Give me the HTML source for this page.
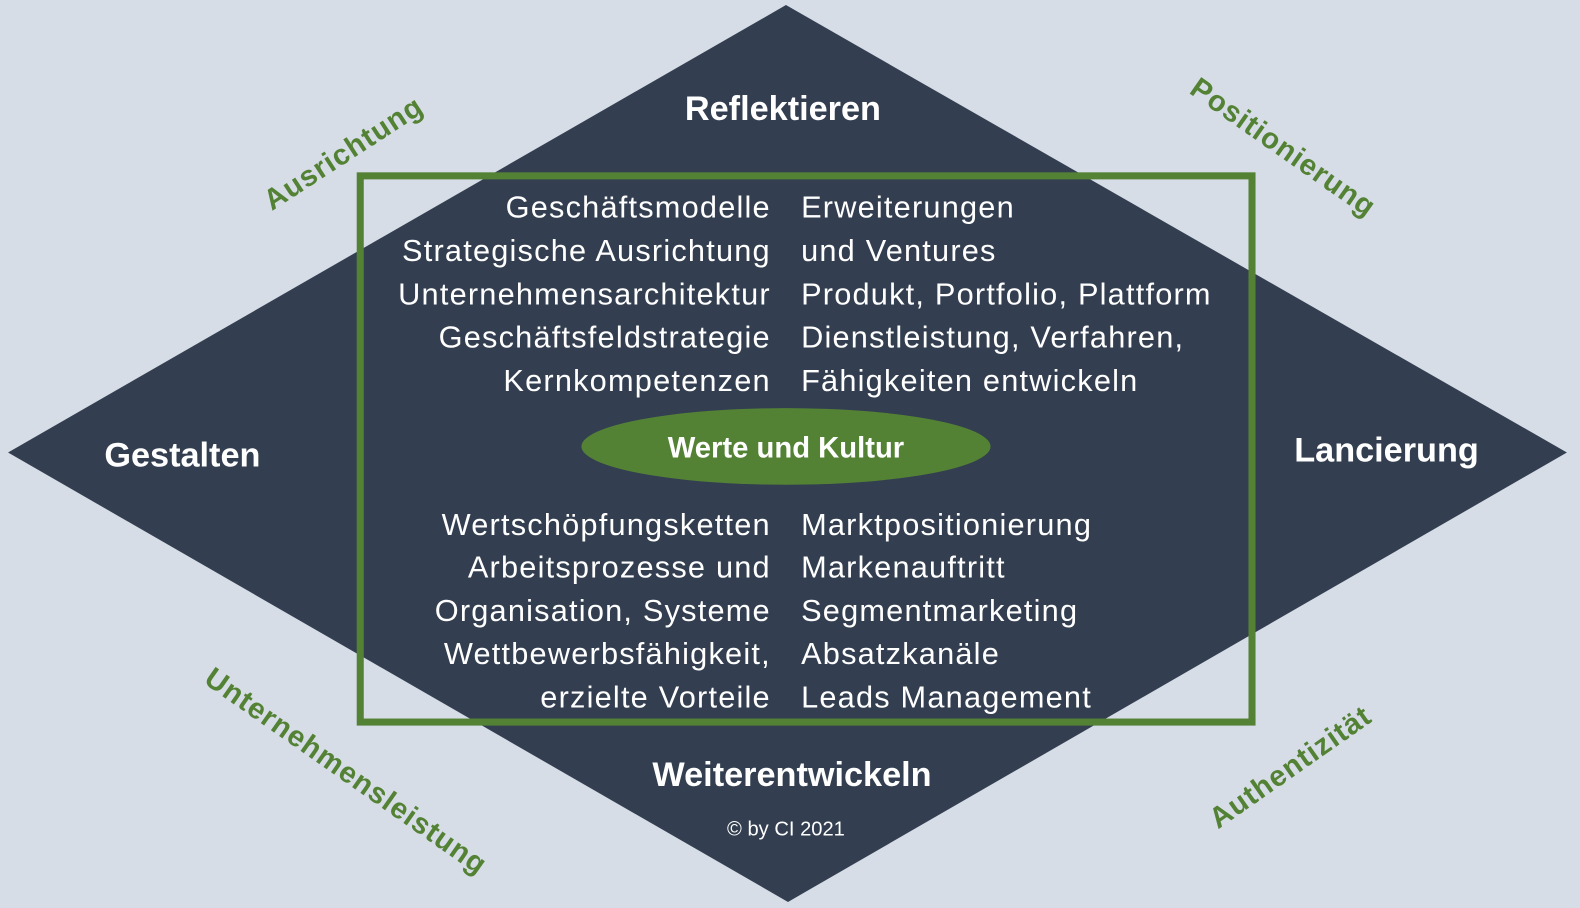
<!DOCTYPE html>
<html><head><meta charset="utf-8"><style>
html,body{margin:0;padding:0;background:#d6dde7;}
svg{display:block;}
text{font-family:"Liberation Sans",sans-serif;}
</style></head><body>
<svg width="1580" height="908" viewBox="0 0 1568 901" preserveAspectRatio="none" xmlns="http://www.w3.org/2000/svg">
<rect width="1568" height="901" fill="#d6dde7"/>
<polygon points="780,5 1555,449 782,895 8,449" fill="#333f50"/>
<rect x="357.5" y="174.5" width="885" height="542" fill="none" stroke="#548235" stroke-width="7"/>
<ellipse cx="780" cy="443" rx="203" ry="38" fill="#548235"/>
<g fill="#fff" font-weight="bold" font-size="34" text-anchor="middle">
<text x="777" y="119">Reflektieren</text>
<text x="181" y="463">Gestalten</text>
<text x="1376" y="458">Lancierung</text>
<text x="786" y="780">Weiterentwickeln</text>
<text x="780" y="454" font-size="29">Werte und Kultur</text>
</g>
<text x="780" y="829" fill="#fff" font-size="20" text-anchor="middle">© by CI 2021</text>
<g fill="#fff" font-size="30.5" letter-spacing="1.2" text-anchor="end">
<text x="765" y="216">Geschäftsmodelle</text>
<text x="765" y="259">Strategische  Ausrichtung</text>
<text x="765" y="302">Unternehmensarchitektur</text>
<text x="765" y="345">Geschäftsfeldstrategie</text>
<text x="765" y="388">Kernkompetenzen</text>
<text x="765" y="531">Wertschöpfungsketten</text>
<text x="765" y="573">Arbeitsprozesse und</text>
<text x="765" y="616">Organisation, Systeme</text>
<text x="765" y="659">Wettbewerbsfähigkeit,</text>
<text x="765" y="702">erzielte Vorteile</text>
</g>
<g fill="#fff" font-size="30.5" letter-spacing="1.2">
<text x="795" y="216">Erweiterungen</text>
<text x="795" y="259">und  Ventures</text>
<text x="795" y="302">Produkt, Portfolio, Plattform</text>
<text x="795" y="345">Dienstleistung, Verfahren,</text>
<text x="795" y="388">Fähigkeiten entwickeln</text>
<text x="795" y="531">Marktpositionierung</text>
<text x="795" y="573">Markenauftritt</text>
<text x="795" y="616">Segmentmarketing</text>
<text x="795" y="659">Absatzkanäle</text>
<text x="795" y="702">Leads Management</text>
</g>
<g fill="#548235" font-weight="bold" font-size="29" letter-spacing="1" text-anchor="middle">
<text transform="translate(346,160) rotate(-33)">Ausrichtung</text>
<text transform="translate(1268,154) rotate(35)">Positionierung</text>
<text transform="translate(338,773) rotate(35)">Unternehmensleistung</text>
<text transform="translate(1286,769) rotate(-35)">Authentizität</text>
</g>
</svg>
</body></html>
